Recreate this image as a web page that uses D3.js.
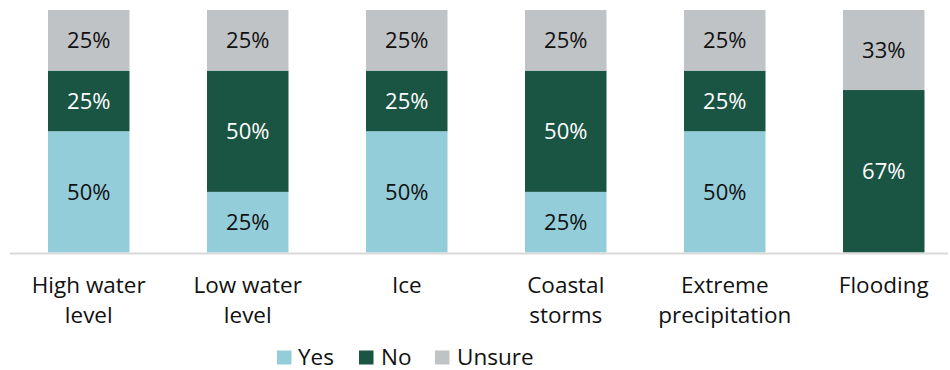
<!DOCTYPE html>
<html>
<head>
<meta charset="utf-8">
<script src="https://cdn.jsdelivr.net/npm/d3@7"></script>
<style>
  html, body { margin: 0; padding: 0; background: #fff; }
  svg { display: block; font-family: "Open Sans", sans-serif; }
</style>
</head>
<body>
<svg id="chart" width="950" height="370"></svg>
<script>
// Hazard categories (label lines) and the share of answers per series, in percent
const categories = ["High water level", "Low water level", "Ice", "Coastal storms", "Extreme precipitation", "Flooding"];
const categoryLines = [["High water", "level"], ["Low water", "level"], ["Ice"], ["Coastal", "storms"], ["Extreme", "precipitation"], ["Flooding"]];
const seriesNames = ["Yes", "No", "Unsure"];
const yesValues = [50, 25, 50, 25, 50, 0];
const noValues = [25, 50, 25, 50, 25, 67];
const unsureValues = [25, 25, 25, 25, 25, 33];
const seriesColors = ["#93cdd9", "#1a5443", "#c0c3c6"];
const labelColors = ["#111111", "#ffffff", "#111111"];

const rows = categories.map((c, i) => ({
  category: c,
  Yes: yesValues[i],
  No: noValues[i],
  Unsure: unsureValues[i]
}));

const svg = d3.select("#chart");
const plotTop = 10, plotBottom = 252.5;

const x = d3.scaleBand()
  .domain(categories)
  .range([9.25, 963.25])
  .paddingInner(0.4874)
  .paddingOuter(0.2437);

const y = d3.scaleLinear()
  .domain([0, 100])
  .range([plotBottom, plotTop]);

const color = d3.scaleOrdinal().domain(seriesNames).range(seriesColors);
const textColor = d3.scaleOrdinal().domain(seriesNames).range(labelColors);

const stacked = d3.stack().keys(seriesNames)(rows);

const layers = svg.append("g").selectAll("g")
  .data(stacked)
  .join("g")
  .attr("fill", d => color(d.key));

layers.selectAll("rect")
  .data(d => d.map(p => ({ p, key: d.key })))
  .join("rect")
  .attr("x", d => x(d.p.data.category))
  .attr("width", x.bandwidth())
  .attr("y", d => y(d.p[1]))
  .attr("height", d => y(d.p[0]) - y(d.p[1]));

// Value labels centred in each non-empty segment
const fs = 22;
svg.append("g").selectAll("g")
  .data(stacked)
  .join("g")
  .selectAll("text")
  .data(d => d.filter(p => p[1] - p[0] > 0).map(p => ({ p, key: d.key })))
  .join("text")
  .attr("x", d => x(d.p.data.category) + x.bandwidth() / 2)
  .attr("y", d => (y(d.p[0]) + y(d.p[1])) / 2 + fs * 0.36)
  .attr("text-anchor", "middle")
  .attr("font-size", fs)
  .attr("fill", d => textColor(d.key))
  .text(d => (d.p[1] - d.p[0]) + "%");

// Baseline
svg.append("line")
  .attr("x1", 10).attr("x2", 948)
  .attr("y1", plotBottom + 1).attr("y2", plotBottom + 1)
  .attr("stroke", "#d9d9d9")
  .attr("stroke-width", 2);

// Category labels
const catG = svg.append("g").selectAll("text")
  .data(categories)
  .join("text")
  .attr("text-anchor", "middle")
  .attr("font-size", 22.5)
  .attr("fill", "#111111");

catG.selectAll("tspan")
  .data((d, i) => categoryLines[i].map(line => ({ line, c: d })))
  .join("tspan")
  .attr("x", d => x(d.c) + x.bandwidth() / 2)
  .attr("y", (d, j) => 293 + j * 30)
  .text(d => d.line);

// Legend
const legendItems = [
  { key: "Yes", sx: 277, tx: 298 },
  { key: "No", sx: 359, tx: 381 },
  { key: "Unsure", sx: 435, tx: 457 }
];
const legend = svg.append("g");
legend.selectAll("rect")
  .data(legendItems)
  .join("rect")
  .attr("x", d => d.sx)
  .attr("y", 350.5)
  .attr("width", 14.5)
  .attr("height", 14)
  .attr("fill", d => color(d.key));
legend.selectAll("text")
  .data(legendItems)
  .join("text")
  .attr("x", d => d.tx)
  .attr("y", 364.5)
  .attr("font-size", 22.5)
  .attr("fill", "#111111")
  .text(d => d.key);
</script>
</body>
</html>
